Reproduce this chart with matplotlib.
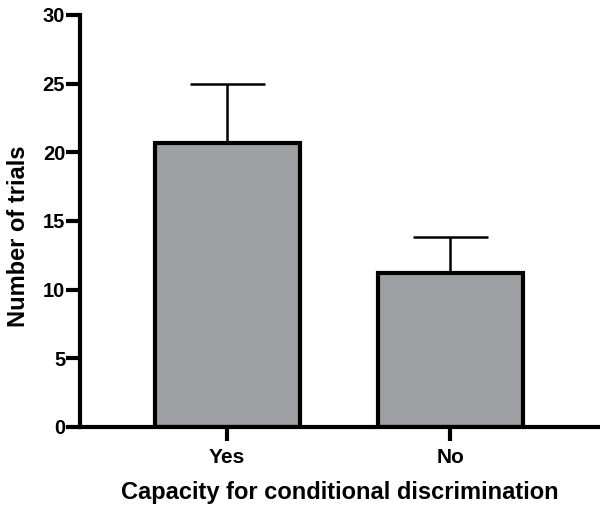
import matplotlib
matplotlib.use("Agg")
import matplotlib.pyplot as plt

categories = ["Yes", "No"]
means = [20.7, 11.2]
errors = [4.3, 2.65]
yticks = [0, 5, 10, 15, 20, 25, 30]

plt.rcParams['font.family'] = ['Liberation Sans', 'DejaVu Sans']
plt.rcParams['font.weight'] = 'bold'

fig = plt.figure(figsize=(6, 5.15), dpi=100)
ax = fig.add_axes([0.133, 0.171, 0.867, 0.80])

x = list(range(len(categories)))
ax.errorbar(x, means, yerr=[[0]*len(errors), errors], fmt='none', ecolor='black',
            elinewidth=1.8, capsize=27, capthick=1.8, zorder=1)
ax.bar(x, means, width=0.65, color='#9e9fa2', edgecolor='black', linewidth=3, zorder=2)

ax.set_xlim(-0.66, 1.67)
ax.set_ylim(0, 30)
ax.set_yticks(yticks)
ax.set_xticks(x)
ax.set_xticklabels(categories)

for s in ['top', 'right']:
    ax.spines[s].set_visible(False)
for s in ['left', 'bottom']:
    ax.spines[s].set_linewidth(3)
ax.tick_params(axis='both', width=3, length=10)
ax.tick_params(axis='x', length=10, pad=5, labelsize=15)
ax.tick_params(axis='y', pad=0.5, labelsize=14.5)

ax.set_ylabel("Number of trials", fontsize=17, fontweight='bold')
ax.yaxis.set_label_coords(-0.096, 0.464)
ax.set_xlabel("Capacity for conditional discrimination", fontsize=17, fontweight='bold', labelpad=10)

fig.savefig("out.png", dpi=100)
